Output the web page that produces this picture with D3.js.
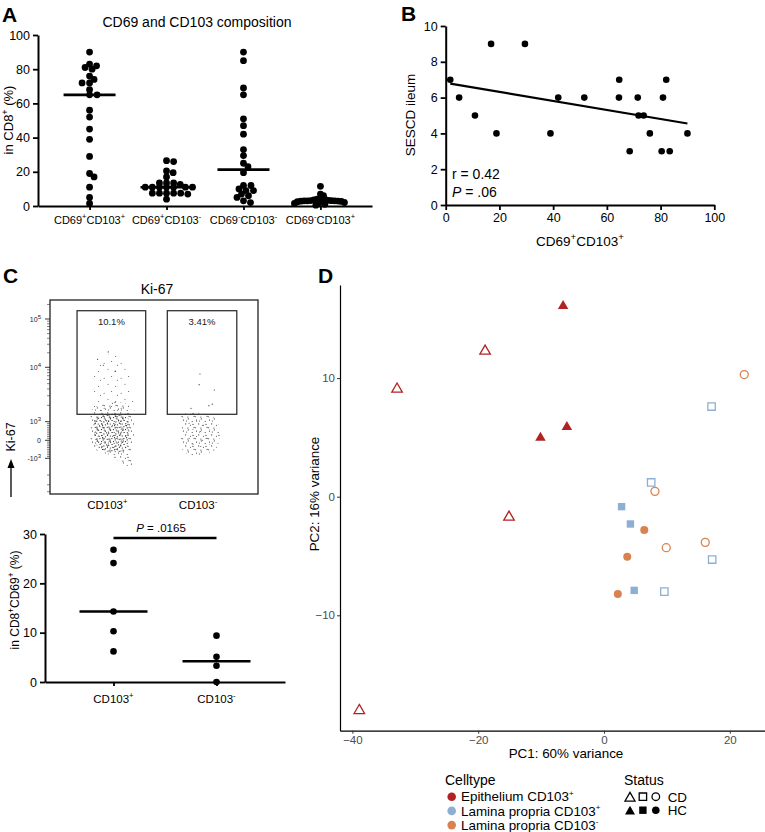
<!DOCTYPE html>
<html><head><meta charset="utf-8">
<script src="https://cdn.jsdelivr.net/npm/d3@7/dist/d3.min.js"></script>
<style>
html,body{margin:0;padding:0;background:#fff;}
svg{display:block;font-family:"Liberation Sans",Arial,Helvetica,sans-serif;}
</style></head><body>
<svg id="fig" width="765" height="832"></svg>
<script>
// ================= DATA =================
// Panel A – CD69 and CD103 composition (in CD8+ %)
const aCategories = ["CD69^+CD103^+", "CD69^+CD103^-", "CD69^-CD103^-", "CD69^-CD103^+"];
const aSeries1 = [90, 83, 82, 81, 80, 76, 74, 72, 72, 68, 65, 65, 56, 52, 45, 39, 29, 19, 17, 11, 5, 1.5];
const aSeries2 = [26.5, 26, 20.5, 19.5, 17, 13.5, 13.5, 13.5, 12.7, 11, 11, 11, 11, 11, 11, 11, 7.5, 7.5, 7.5, 7, 7.5, 7.5, 4];
const aSeries3 = [90, 85, 69, 65, 51, 47, 42, 33, 29.5, 25, 23, 19.5, 12, 12, 10, 9, 9, 7, 6, 5, 3, 2];
const aSeries4 = [11.5, 7, 6, 4.5, 4, 3.8, 3.5, 3.3, 3.2, 3.1, 3, 3, 3, 2.9, 2.8, 2.7, 2.5, 2.3, 2, 1.8, 1.5, 1, 0.5];
const aYTicks = [0, 20, 40, 60, 80, 100];
const aTitle = "CD69 and CD103 composition";

// Panel B – SESCD ileum vs CD69+CD103+
const bX = [1.7, 5, 10.9, 16.9, 18.9, 29.5, 39, 41.9, 51.6, 64.6, 64.5, 68.5, 71.5, 71.8, 73.7, 76, 80.4, 80.9, 82.1, 83.4, 90];
const bY = [7, 6, 5, 9, 4, 9, 4, 6, 6, 7, 6, 3, 6, 5, 5, 4, 3, 6, 7, 3, 4];
const bXTicks = [0, 20, 40, 60, 80, 100];
const bYTicks = [0, 2, 4, 6, 8, 10];
const bStats = ["r = 0.42", ".06"];

// Panel C – Ki-67 flow plot (events shown as stippled density regions)
const cFlowCats = ["CD103^+", "CD103^-"];
const cGateX = [[130, 460], [564, 898]];
const cGateY = [1368, 148500];
const cGatePct = ["10.1%", "3.41%"];
const cFlowMajor = [100000, 10000, 1000, 0, -1000];
const cFlowMajorLbl = [["10", "5"], ["10", "4"], ["10", "3"], ["0", ""], ["-10", "3"]];
const cCloud1Outer = [[202,1641],[240,2028],[313,2301],[375,2028],[399,1327],[404,554],[399,-261],[385,-706],[399,-1321],[375,-1377],[337,-1166],[288,-817],[240,-650],[202,-372],[197,554]];
const cCloud1Core = [[216,1169],[288,1327],[375,1169],[380,285],[360,-539],[288,-650],[230,-372],[216,285]];
const cCloud1Gate = [[216,8913],[313,20800],[375,8913],[399,3097],[399,1445],[202,1445],[207,3097]];
const cCloud2Outer = [[635,1327],[721,1445],[793,1169],[817,285],[793,-539],[721,-817],[649,-706],[630,-261],[635,554]];
const cCloud2Core = [[660,930],[721,1000],[769,554],[769,-261],[721,-372],[673,-261],[660,285]];
const cEventsX = [280, 229, 256, 313, 721, 717, 790, 678, 764, 780];
const cEventsY = [20800, 14620, 11020, 8500, 7530, 4786, 3828, 1763, 1968, 2100];

// Panel C – Ki-67+ in CD8+CD69+ (%)
const cCats = ["CD103^+", "CD103^-"];
const cPlus = [26.8, 24.1, 14.3, 10.3, 6.2];
const cMinus = [9.4, 5.1, 3.3, 0];
const cYTicks = [0, 10, 20, 30];
const cPText = " = .0165";

// Panel D – PCA
const dPC1 = [-6.5, -18.9, -32.9, -10.1, -5.9, -15.1, -38.9, 22.3, 17.1, 7.5, 8.1, 2.8, 4.2, 6.4, 16.1, 9.9, 3.7, 17.2, 2.2, 4.8, 9.6];
const dPC2 = [16.2, 12.4, 9.2, 5.1, 6.0, -1.6, -17.9, 10.3, 7.6, 1.2, 0.45, -0.84, -2.3, -2.8, -3.85, -4.3, -5.06, -5.3, -8.2, -7.9, -8.0];
const dCell = ["Epi","Epi","Epi","Epi","Epi","Epi","Epi","LPn","LPp","LPp","LPn","LPp","LPp","LPn","LPn","LPn","LPn","LPp","LPn","LPp","LPp"];
const dStatus = ["HC","CD","CD","HC","HC","CD","CD","CD","CD","CD","CD","HC","HC","HC","CD","CD","HC","CD","HC","HC","CD"];
const dCellKeys = ["Epi", "LPp", "LPn"];
const dCellLabels = ["Epithelium CD103^+", "Lamina propria CD103^+", "Lamina propria CD103^-"];
const dColors = ["#B22222", "#8EAFD4", "#D9824F"];
const dShapes = ["triangle", "square", "circle"];
const dStatusKeys = ["CD", "HC"];
const dXTicks = [-40, -20, 0, 20];
const dYTicks = [-10, 0, 10];

// ================= HELPERS =================
const svg = d3.select("#fig");
const defs = svg.append("defs");

function rich(sel, str, fs, supScale) {
  const sc = supScale || 0.68;
  const parts = str.split(/(\^[+\-0-9])/).filter(s => s.length);
  let prevSup = false;
  parts.forEach(p => {
    if (p[0] === "^") {
      sel.append("tspan").attr("font-size", fs * sc).attr("dy", -fs * 0.42).text(p[1]);
      prevSup = true;
    } else {
      const t = sel.append("tspan").text(p);
      if (prevSup) t.attr("dy", fs * 0.42);
      prevSup = false;
    }
  });
  return sel;
}
function panelLabel(x, y, t) {
  svg.append("text").attr("x", x).attr("y", y).attr("font-size", 21).attr("font-weight", "bold").text(t);
}
function prismStyle(g, fs) {
  g.select(".domain").attr("stroke", "#000").attr("stroke-width", 2);
  g.selectAll(".tick line").attr("stroke", "#000").attr("stroke-width", 1.8);
  g.selectAll(".tick text").attr("font-size", fs).attr("fill", "#000").attr("font-family", null);
}
// Prism-like column scatter: horizontal spacing dx, rows free when |dy| >= ry; widest spread capped
function beeswarm(values, yScale, dx, ry, cap) {
  const order = values.map((v, i) => i).sort((a, b) => values[b] - values[a]);
  const placed = [], offs = new Array(values.length).fill(0);
  order.forEach(i => {
    const y = yScale(values[i]);
    for (let k = 0; k < 800; k++) {
      const o = k === 0 ? 0 : (k % 2 ? 1 : -1) * Math.ceil(k / 2) * 0.5;
      if (placed.every(p => ((p.x - o) / dx) ** 2 + ((p.y - y) / ry) ** 2 >= 1)) {
        offs[i] = o; placed.push({ x: o, y }); break;
      }
    }
  });
  const m = d3.max(offs, Math.abs);
  const f = m > cap ? cap / m : 1;
  return offs.map(o => o * f);
}

// ================= PANEL A =================
panelLabel(2, 22, "A");
const aL = 38, aR = 372, aT = 35, aB = 206;
const xA = d3.scalePoint().domain(aCategories).range([aL, aR]).padding(0.67);
const yA = d3.scaleLinear().domain([0, 100]).range([aB, aT]);
svg.append("text").attr("x", 197).attr("y", 27).attr("text-anchor", "middle").attr("font-size", 14).text(aTitle);
const gAy = svg.append("g").attr("transform", `translate(${aL},0)`)
  .call(d3.axisLeft(yA).tickValues(aYTicks).tickSize(5).tickSizeOuter(0).tickPadding(3));
prismStyle(gAy, 12.5);
const gAx = svg.append("g").attr("transform", `translate(0,${aB})`)
  .call(d3.axisBottom(xA).tickSize(4).tickSizeOuter(0).tickFormat(""));
prismStyle(gAx, 11);
aCategories.forEach(c => {
  rich(svg.append("text").attr("x", xA(c)).attr("y", 224).attr("text-anchor", "middle").attr("font-size", 11), c, 11);
});
rich(svg.append("text").attr("transform", "translate(13,120) rotate(-90)").attr("text-anchor", "middle").attr("font-size", 13), "in CD8^+ (%)", 13);
[aSeries1, aSeries2, aSeries3, aSeries4].forEach((vals, j) => {
  const cx = xA(aCategories[j]);
  const offs = beeswarm(vals, yA, 7.3, 4.2, 26);
  svg.append("g").selectAll("circle").data(vals).join("circle")
    .attr("cx", (d, i) => cx + offs[i]).attr("cy", d => yA(d)).attr("r", 3.4).attr("fill", "#000");
  const med = d3.median(vals);
  svg.append("line").attr("x1", cx - 26).attr("x2", cx + 26).attr("y1", yA(med)).attr("y2", yA(med))
    .attr("stroke", "#000").attr("stroke-width", 2.6);
});

// ================= PANEL B =================
panelLabel(401, 21, "B");
const bL = 445.7, bR = 714.3, bT = 26, bB = 205;
const xB = d3.scaleLinear().domain([0, 100]).range([bL, bR]);
const yB = d3.scaleLinear().domain([0, 10]).range([bB, bT]);
const gBy = svg.append("g").attr("transform", `translate(${bL},0)`)
  .call(d3.axisLeft(yB).tickValues(bYTicks).tickSize(5).tickSizeOuter(0).tickPadding(3));
prismStyle(gBy, 12.5);
const gBx = svg.append("g").attr("transform", `translate(0,${bB})`)
  .call(d3.axisBottom(xB).tickValues(bXTicks).tickSize(5).tickSizeOuter(0).tickPadding(3));
prismStyle(gBx, 12.5);
svg.append("g").selectAll("circle").data(bX).join("circle")
  .attr("cx", d => xB(d)).attr("cy", (d, i) => yB(bY[i])).attr("r", 3.3).attr("fill", "#000");
{
  const mx = d3.mean(bX), my = d3.mean(bY);
  let sxy = 0, sxx = 0;
  bX.forEach((x, i) => { sxy += (x - mx) * (bY[i] - my); sxx += (x - mx) ** 2; });
  const slope = sxy / sxx, icpt = my - slope * mx;
  const [x0, x1] = d3.extent(bX);
  svg.append("line").attr("x1", xB(x0)).attr("x2", xB(x1)).attr("y1", yB(icpt + slope * x0)).attr("y2", yB(icpt + slope * x1))
    .attr("stroke", "#000").attr("stroke-width", 2.2);
}
svg.append("text").attr("x", 452).attr("y", 179).attr("font-size", 14).text(bStats[0]);
{
  const t = svg.append("text").attr("x", 452).attr("y", 197).attr("font-size", 14);
  t.append("tspan").attr("font-style", "italic").text("P");
  t.append("tspan").text(" = " + bStats[1]);
}
rich(svg.append("text").attr("transform", "translate(415,115) rotate(-90)").attr("text-anchor", "middle").attr("font-size", 13.5), "SESCD ileum", 13.5);
rich(svg.append("text").attr("x", 580).attr("y", 246).attr("text-anchor", "middle").attr("font-size", 13.5), "CD69^+CD103^+", 13.5, 0.72);

// ================= PANEL C (flow) =================
panelLabel(3, 283, "C");
const fL = 50, fT = 300, fR = 258, fB = 494;
const xF = d3.scaleLinear().domain([0, 1000]).range([fL, fR]);
const fDecade = v => (Math.abs(v) < 1000 ? 3 * v / 1000 : Math.sign(v) * Math.log10(Math.abs(v)));
const yFu = d3.scaleLinear().domain([-4, -3, 0, 3, 4, 5]).range([513.8, 458.3, 440.3, 421.7, 367.3, 319]);
const yF = v => yFu(fDecade(v));

function stipple(id, w, h, pts, r, col) {
  const p = defs.append("pattern").attr("id", id).attr("patternUnits", "userSpaceOnUse").attr("width", w).attr("height", h);
  pts.forEach(([x, y]) => p.append("circle").attr("cx", x).attr("cy", y).attr("r", r).attr("fill", col));
}
stipple("stDense", 12, 12, [[0.7,1.2],[4.1,0.4],[7.9,1.9],[10.6,0.8],[2.3,4.0],[5.8,3.6],[9.4,4.8],[0.9,7.1],[3.9,6.6],[7.2,7.9],[11.2,7.3],[2.6,10.2],[5.5,9.6],[9.1,11.0],[6.6,5.7],[11.4,3.2],[1.3,9.0],[8.3,10.0]], 0.6, "#222");
stipple("stMid", 13, 11, [[1.5,2.1],[6.3,0.9],[10.2,3.5],[3.7,5.9],[8.4,7.2],[0.6,9.8],[5.9,10.1],[12.1,9.4],[4.4,3.0],[11.0,6.4]], 0.55, "#333");
stipple("stSparse", 17, 15, [[2.1,3.3],[9.6,1.4],[6.0,9.2],[13.7,11.6],[15.4,5.2]], 0.5, "#444");

svg.append("text").attr("x", 157).attr("y", 294).attr("text-anchor", "middle").attr("font-size", 14).text("Ki-67");
const cloud = d3.line().x(d => xF(d[0])).y(d => yF(d[1])).curve(d3.curveCatmullRomClosed);
[[cCloud1Gate, "stSparse"], [cCloud1Outer, "stMid"], [cCloud1Core, "stDense"], [cCloud2Outer, "stMid"], [cCloud2Core, "stSparse"]]
  .forEach(([poly, pat]) => svg.append("path").attr("d", cloud(poly)).attr("fill", `url(#${pat})`).attr("stroke", "none"));
svg.append("g").selectAll("circle").data(cEventsX).join("circle")
  .attr("cx", d => xF(d)).attr("cy", (d, i) => yF(cEventsY[i])).attr("r", 0.6).attr("fill", "#333");
svg.append("rect").attr("x", fL).attr("y", fT).attr("width", fR - fL).attr("height", fB - fT)
  .attr("fill", "none").attr("stroke", "#222").attr("stroke-width", 1.3);
cGateX.forEach((gx, i) => {
  svg.append("rect").attr("x", xF(gx[0])).attr("y", yF(cGateY[1])).attr("width", xF(gx[1]) - xF(gx[0]))
    .attr("height", yF(cGateY[0]) - yF(cGateY[1])).attr("fill", "none").attr("stroke", "#333").attr("stroke-width", 1.3);
  svg.append("text").attr("x", (xF(gx[0]) + xF(gx[1])) / 2).attr("y", yF(cGateY[1]) + 14)
    .attr("text-anchor", "middle").attr("font-size", 9.5).attr("fill", "#222").text(cGatePct[i]);
  rich(svg.append("text").attr("x", (xF(gx[0]) + xF(gx[1])) / 2 - 4).attr("y", 509).attr("text-anchor", "middle").attr("font-size", 11.5), cFlowCats[i], 11.5);
});
// Ki-67 axis ticks
{
  const minor = [];
  [1000, 10000].forEach(dec => { for (let k = 2; k <= 9; k++) minor.push(k * dec); });
  minor.push(200000);
  for (let k = -9; k <= 9; k++) if (k !== 0) minor.push(k * 100);
  [-2000, -3000, -4000].forEach(v => minor.push(v));
  svg.append("g").selectAll("line").data(minor.filter(v => yF(v) > fT && yF(v) < fB)).join("line")
    .attr("x1", fL - 3).attr("x2", fL).attr("y1", d => yF(d)).attr("y2", d => yF(d)).attr("stroke", "#333").attr("stroke-width", 0.6);
  svg.append("g").selectAll("line").data(cFlowMajor).join("line")
    .attr("x1", fL - 5).attr("x2", fL).attr("y1", d => yF(d)).attr("y2", d => yF(d)).attr("stroke", "#222").attr("stroke-width", 0.9);
  cFlowMajor.forEach((v, i) => {
    const [b, s] = cFlowMajorLbl[i];
    const t = svg.append("text").attr("x", 41).attr("y", yF(v) + 2.5).attr("text-anchor", "end").attr("font-size", 7).attr("fill", "#222");
    t.append("tspan").text(b);
    if (s) t.append("tspan").attr("dy", -3).attr("font-size", 6).text(s);
  });
}
svg.append("text").attr("transform", "translate(15,437) rotate(-90)").attr("text-anchor", "middle").attr("font-size", 12.5).text("Ki-67");
svg.append("line").attr("x1", 11).attr("x2", 11).attr("y1", 497).attr("y2", 466).attr("stroke", "#000").attr("stroke-width", 1.3);
svg.append("path").attr("d", "M11,459 L7.5,468 L14.5,468 Z").attr("fill", "#000");

// ================= PANEL C (bottom) =================
const cL = 45, cR = 285, cT = 534, cB = 682;
const xC = d3.scalePoint().domain(cCats).range([cL, cR]).padding(0.665);
const yC = d3.scaleLinear().domain([0, 30]).range([cB, cT]);
const gCy = svg.append("g").attr("transform", `translate(${cL},0)`)
  .call(d3.axisLeft(yC).tickValues(cYTicks).tickSize(5).tickSizeOuter(0).tickPadding(3));
prismStyle(gCy, 12.5);
const gCx = svg.append("g").attr("transform", `translate(0,${cB})`)
  .call(d3.axisBottom(xC).tickSize(4).tickSizeOuter(0).tickFormat(""));
prismStyle(gCx, 11);
cCats.forEach(c => rich(svg.append("text").attr("x", xC(c)).attr("y", 703).attr("text-anchor", "middle").attr("font-size", 11.5), c, 11.5));
rich(svg.append("text").attr("transform", "translate(19,600) rotate(-90)").attr("text-anchor", "middle").attr("font-size", 12), "in CD8^+CD69^+ (%)", 12);
[cPlus, cMinus].forEach((vals, j) => {
  const cx = xC(cCats[j]);
  svg.append("g").selectAll("circle").data(vals).join("circle")
    .attr("cx", cx).attr("cy", d => yC(d)).attr("r", 3.3).attr("fill", "#000");
  const med = d3.median(vals);
  svg.append("line").attr("x1", cx - 34).attr("x2", cx + 34).attr("y1", yC(med)).attr("y2", yC(med))
    .attr("stroke", "#000").attr("stroke-width", 2.6);
});
svg.append("line").attr("x1", xC(cCats[0])).attr("x2", xC(cCats[1])).attr("y1", 538).attr("y2", 538)
  .attr("stroke", "#000").attr("stroke-width", 2.6);
{
  const t = svg.append("text").attr("x", 161).attr("y", 532).attr("text-anchor", "middle").attr("font-size", 11.5);
  t.append("tspan").attr("font-style", "italic").text("P");
  t.append("tspan").text(cPText);
}

// ================= PANEL D =================
panelLabel(318, 283, "D");
const dL = 340, dR = 792, dT = 285, dB = 730.7;
const xD = d3.scaleLinear().domain([-41.97, 29.89]).range([dL, dR]);
const yD = d3.scaleLinear().domain([-19.73, 17.85]).range([dB, dT]);
function shapePath(type, s) {
  if (type === "triangle") { const h = s * 0.866; return `M0,${-h / 2}L${s / 2},${h / 2}L${-s / 2},${h / 2}Z`; }
  if (type === "square") return `M${-s / 2},${-s / 2}h${s}v${s}h${-s}Z`;
  const r = s / 2; return `M${r},0A${r},${r} 0 1,1 ${-r},0A${r},${r} 0 1,1 ${r},0Z`;
}
const shapeSize = { triangle: 10.5, square: 7.4, circle: 8 };
const gDx = svg.append("g").attr("transform", `translate(0,${dB})`)
  .call(d3.axisBottom(xD).tickValues(dXTicks).tickSize(3).tickSizeOuter(0).tickPadding(2));
const gDy = svg.append("g").attr("transform", `translate(${dL},0)`)
  .call(d3.axisLeft(yD).tickValues(dYTicks).tickSize(3).tickSizeOuter(0).tickPadding(2));
[gDx, gDy].forEach(g => {
  g.select(".domain").attr("stroke", "#000").attr("stroke-width", 1.2);
  g.selectAll(".tick line").attr("stroke", "#333").attr("stroke-width", 1);
  g.selectAll(".tick text").attr("font-size", 11.5).attr("fill", "#4D4D4D").attr("font-family", null);
});
svg.append("g").selectAll("path").data(dPC1).join("path")
  .attr("transform", (d, i) => `translate(${xD(d)},${yD(dPC2[i])})`)
  .attr("d", (d, i) => { const k = dCellKeys.indexOf(dCell[i]); return shapePath(dShapes[k], shapeSize[dShapes[k]]); })
  .attr("fill", (d, i) => dStatus[i] === "HC" ? dColors[dCellKeys.indexOf(dCell[i])] : "none")
  .attr("stroke", (d, i) => dColors[dCellKeys.indexOf(dCell[i])])
  .attr("stroke-width", (d, i) => dStatus[i] === "HC" ? 0 : 1.3);
svg.append("text").attr("x", 566).attr("y", 758).attr("text-anchor", "middle").attr("font-size", 13.4).text("PC1: 60% variance");
svg.append("text").attr("transform", "translate(319,494) rotate(-90)").attr("text-anchor", "middle").attr("font-size", 13.4).text("PC2: 16% variance");
// Legend
svg.append("text").attr("x", 445).attr("y", 785).attr("font-size", 14).text("Celltype");
dCellLabels.forEach((lbl, i) => {
  const cy = 796.7 + i * 14.2;
  svg.append("circle").attr("cx", 451.7).attr("cy", cy).attr("r", 4.3).attr("fill", dColors[i]);
  rich(svg.append("text").attr("x", 461).attr("y", cy + 4.6).attr("font-size", 13.4), lbl, 13.4, 0.6);
});
svg.append("text").attr("x", 624).attr("y", 785).attr("font-size", 14).text("Status");
dStatusKeys.forEach((st, r) => {
  const cy = 796.7 + r * 13.5;
  dShapes.forEach((sh, k) => {
    svg.append("path").attr("transform", `translate(${630 + k * 12.9},${cy})`)
      .attr("d", shapePath(sh, sh === "triangle" ? 10 : (sh === "square" ? 7.4 : 7.6)))
      .attr("fill", st === "HC" ? "#000" : "none").attr("stroke", "#000").attr("stroke-width", st === "HC" ? 0 : 1.3);
  });
  svg.append("text").attr("x", 667.7).attr("y", cy + 4.8).attr("font-size", 13.4).text(st);
});
</script>
</body></html>
